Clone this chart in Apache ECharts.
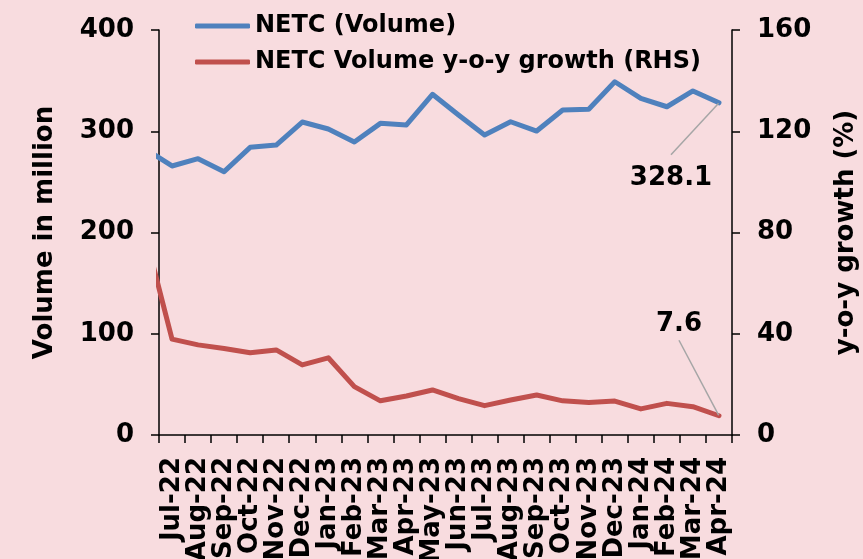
<!DOCTYPE html>
<html>
<head>
<meta charset="utf-8">
<script src="https://cdn.jsdelivr.net/npm/echarts@6/dist/echarts.min.js"></script>
<style>
html,body{margin:0;padding:0;background:#F8DCDF;}
#c{width:863px;height:559px;}
</style>
</head>
<body>
<div id="c"></div>
<script>
// Jun-22 is just left of the visible axis (line enters clipped from the left edge)
var categories = ['Jun-22','Jul-22','Aug-22','Sep-22','Oct-22','Nov-22','Dec-22','Jan-23','Feb-23','Mar-23','Apr-23','May-23','Jun-23','Jul-23','Aug-23','Sep-23','Oct-23','Nov-23','Dec-23','Jan-24','Feb-24','Mar-24','Apr-24'];
var volume = [282, 265.7, 272.9, 260.1, 284.1, 286.4, 309.1, 302.2, 289.4, 307.8, 306.2, 336.5, 316, 296.3, 309.4, 300.2, 321.0, 321.7, 348.9, 332.5, 324.2, 339.8, 328.1];
var growth = [78, 37.9, 35.6, 34.2, 32.5, 33.6, 27.7, 30.5, 19.1, 13.5, 15.4, 17.8, 14.4, 11.6, 13.8, 15.8, 13.5, 12.8, 13.4, 10.3, 12.5, 11.2, 7.6];
var leftTicks = [0, 100, 200, 300, 400];
var rightTicks = [0, 40, 80, 120, 160];
var seriesNames = ['NETC (Volume)', 'NETC Volume y-o-y growth (RHS)'];

var FONT = 'DejaVu Sans';
var last = categories.length - 1;
function withEndLabel(arr) {
  return arr.map(function (v, i) {
    return i === last ? { value: v, label: { show: true } } : v;
  });
}
var chart = echarts.init(document.getElementById('c'), null, { renderer: 'canvas' });
var axisLine = { show: true, lineStyle: { color: '#000', width: 1.5 } };
var labelStyle = { color: '#000', fontFamily: FONT, fontWeight: 'bold', fontSize: 26 };
chart.setOption({
  backgroundColor: '#F8DCDF',
  animation: false,
  legend: {
    orient: 'vertical', left: 195, top: 12, itemGap: 8, padding: 0,
    itemWidth: 55, itemHeight: 5, icon: 'roundRect', itemTextGap: 5,
    data: seriesNames,
    textStyle: { color: '#000', fontFamily: FONT, fontWeight: 'bold', fontSize: 24, lineHeight: 28 }
  },
  grid: { left: 159, right: 131, top: 30, bottom: 124, containLabel: false, outerBoundsMode: 'none' },
  xAxis: {
    type: 'category', data: categories, min: 1, max: last, boundaryGap: true,
    axisLine: axisLine,
    axisTick: { show: true, inside: false, length: 8, lineStyle: { color: '#000', width: 1.5 } },
    axisLabel: Object.assign({ rotate: 90, margin: 22, interval: 0 }, labelStyle),
    splitLine: { show: false }
  },
  yAxis: [{
    type: 'value', min: leftTicks[0], max: leftTicks[leftTicks.length - 1], interval: leftTicks[1] - leftTicks[0],
    position: 'left', name: 'Volume in million', nameLocation: 'middle', nameRotate: 90, nameGap: 101,
    nameTextStyle: { color: '#000', fontFamily: FONT, fontWeight: 'bold', fontSize: 26 },
    axisLine: axisLine,
    axisTick: { show: true, length: 8, lineStyle: { color: '#000', width: 1.5 } },
    axisLabel: Object.assign({ margin: 25 }, labelStyle),
    splitLine: { show: false }
  }, {
    type: 'value', min: rightTicks[0], max: rightTicks[rightTicks.length - 1], interval: rightTicks[1] - rightTicks[0],
    position: 'right', name: 'y-o-y growth (%)', nameLocation: 'middle', nameRotate: 90, nameGap: 101,
    nameTextStyle: { color: '#000', fontFamily: FONT, fontWeight: 'bold', fontSize: 26 },
    axisLine: axisLine,
    axisTick: { show: true, length: 8, lineStyle: { color: '#000', width: 1.5 } },
    axisLabel: Object.assign({ margin: 25 }, labelStyle),
    splitLine: { show: false }
  }],
  series: [{
    name: seriesNames[0], type: 'line', yAxisIndex: 0, data: withEndLabel(volume),
    clip: true, symbol: 'circle', symbolSize: 1, showSymbol: true,
    color: '#4F81BD',
    itemStyle: { color: '#4F81BD' },
    lineStyle: { color: '#4F81BD', width: 5, cap: 'round', join: 'round' },
    label: { show: false, position: 'inside', padding: [8, 4, 12, 4], backgroundColor: 'rgba(0,0,0,0)', color: '#000', fontFamily: FONT, fontWeight: 'bold', fontSize: 26 },
    labelLine: { show: true, lineStyle: { color: '#A6A6A6', width: 1.5 } },
    labelLayout: function () { return { dx: -48, dy: 75 }; }
  }, {
    name: seriesNames[1], type: 'line', yAxisIndex: 1, data: withEndLabel(growth),
    clip: true, symbol: 'circle', symbolSize: 1, showSymbol: true,
    color: '#C0504D',
    itemStyle: { color: '#C0504D' },
    lineStyle: { color: '#C0504D', width: 5, cap: 'round', join: 'round' },
    label: { show: false, position: 'inside', padding: [4, 4, 3, 4], backgroundColor: 'rgba(0,0,0,0)', color: '#000', fontFamily: FONT, fontWeight: 'bold', fontSize: 26 },
    labelLine: { show: true, lineStyle: { color: '#A6A6A6', width: 1.5 } },
    labelLayout: function () { return { dx: -40, dy: -92 }; }
  }]
});
</script>
</body>
</html>
